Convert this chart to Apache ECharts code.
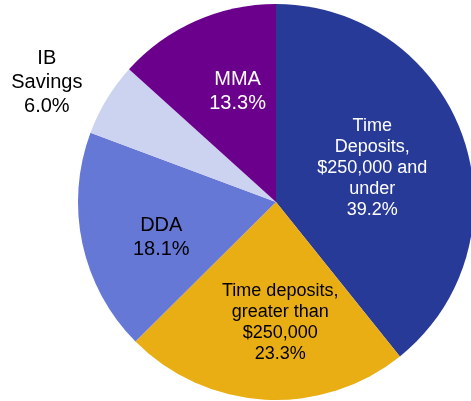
<!DOCTYPE html>
<html>
<head>
<meta charset="utf-8">
<script src="https://cdn.jsdelivr.net/npm/echarts@6/dist/echarts.min.js"></script>
<style>
  html, body { margin: 0; padding: 0; background: #fff; }
  #chart { width: 471px; height: 401px; }
</style>
</head>
<body>
<div id="chart"></div>
<script>
// deposit mix, share of total (%)
var categories = [
  'Time\nDeposits,\n$250,000 and\nunder',
  'Time deposits,\ngreater than\n$250,000',
  'DDA',
  'IB\nSavings',
  'MMA'
];
var shares = [39.2, 23.3, 18.1, 6.0, 13.3];
var colors = ['#283A97', '#E9AE13', '#6678D5', '#CCD3F0', '#6A008C'];

// label look per slice (text colour, size, nudge from the default inside spot)
var labelColors = ['#fff', '#000', '#000', '#000', '#fff'];
var labelSizes = [18, 18, 20, 20, 20];
var labelOffsets = [[0, 0], [10, 19], [-15, 14], [-142, -67], [3, -17]];

var chart = echarts.init(document.getElementById('chart'));

var data = categories.map(function (name, i) {
  return {
    name: name,
    value: shares[i],
    itemStyle: { color: colors[i] },
    label: {
      color: labelColors[i],
      fontSize: labelSizes[i],
      lineHeight: labelSizes[i] == 18 ? 21 : 24,
      offset: labelOffsets[i]
    }
  };
});

var option = {
  animation: false,
  series: [
    {
      type: 'pie',
      center: [276, 202],
      radius: 198,
      startAngle: 90,
      clockwise: true,
      label: {
        show: true,
        position: 'inside',
        fontFamily: '"Liberation Sans", Arial, sans-serif',
        align: 'center',
        formatter: function (p) {
          return p.name + '\n' + p.value.toFixed(1) + '%';
        }
      },
      labelLine: { show: false },
      itemStyle: { borderWidth: 0 },
      emphasis: { disabled: true },
      data: data
    }
  ]
};
chart.setOption(option);
</script>
</body>
</html>
